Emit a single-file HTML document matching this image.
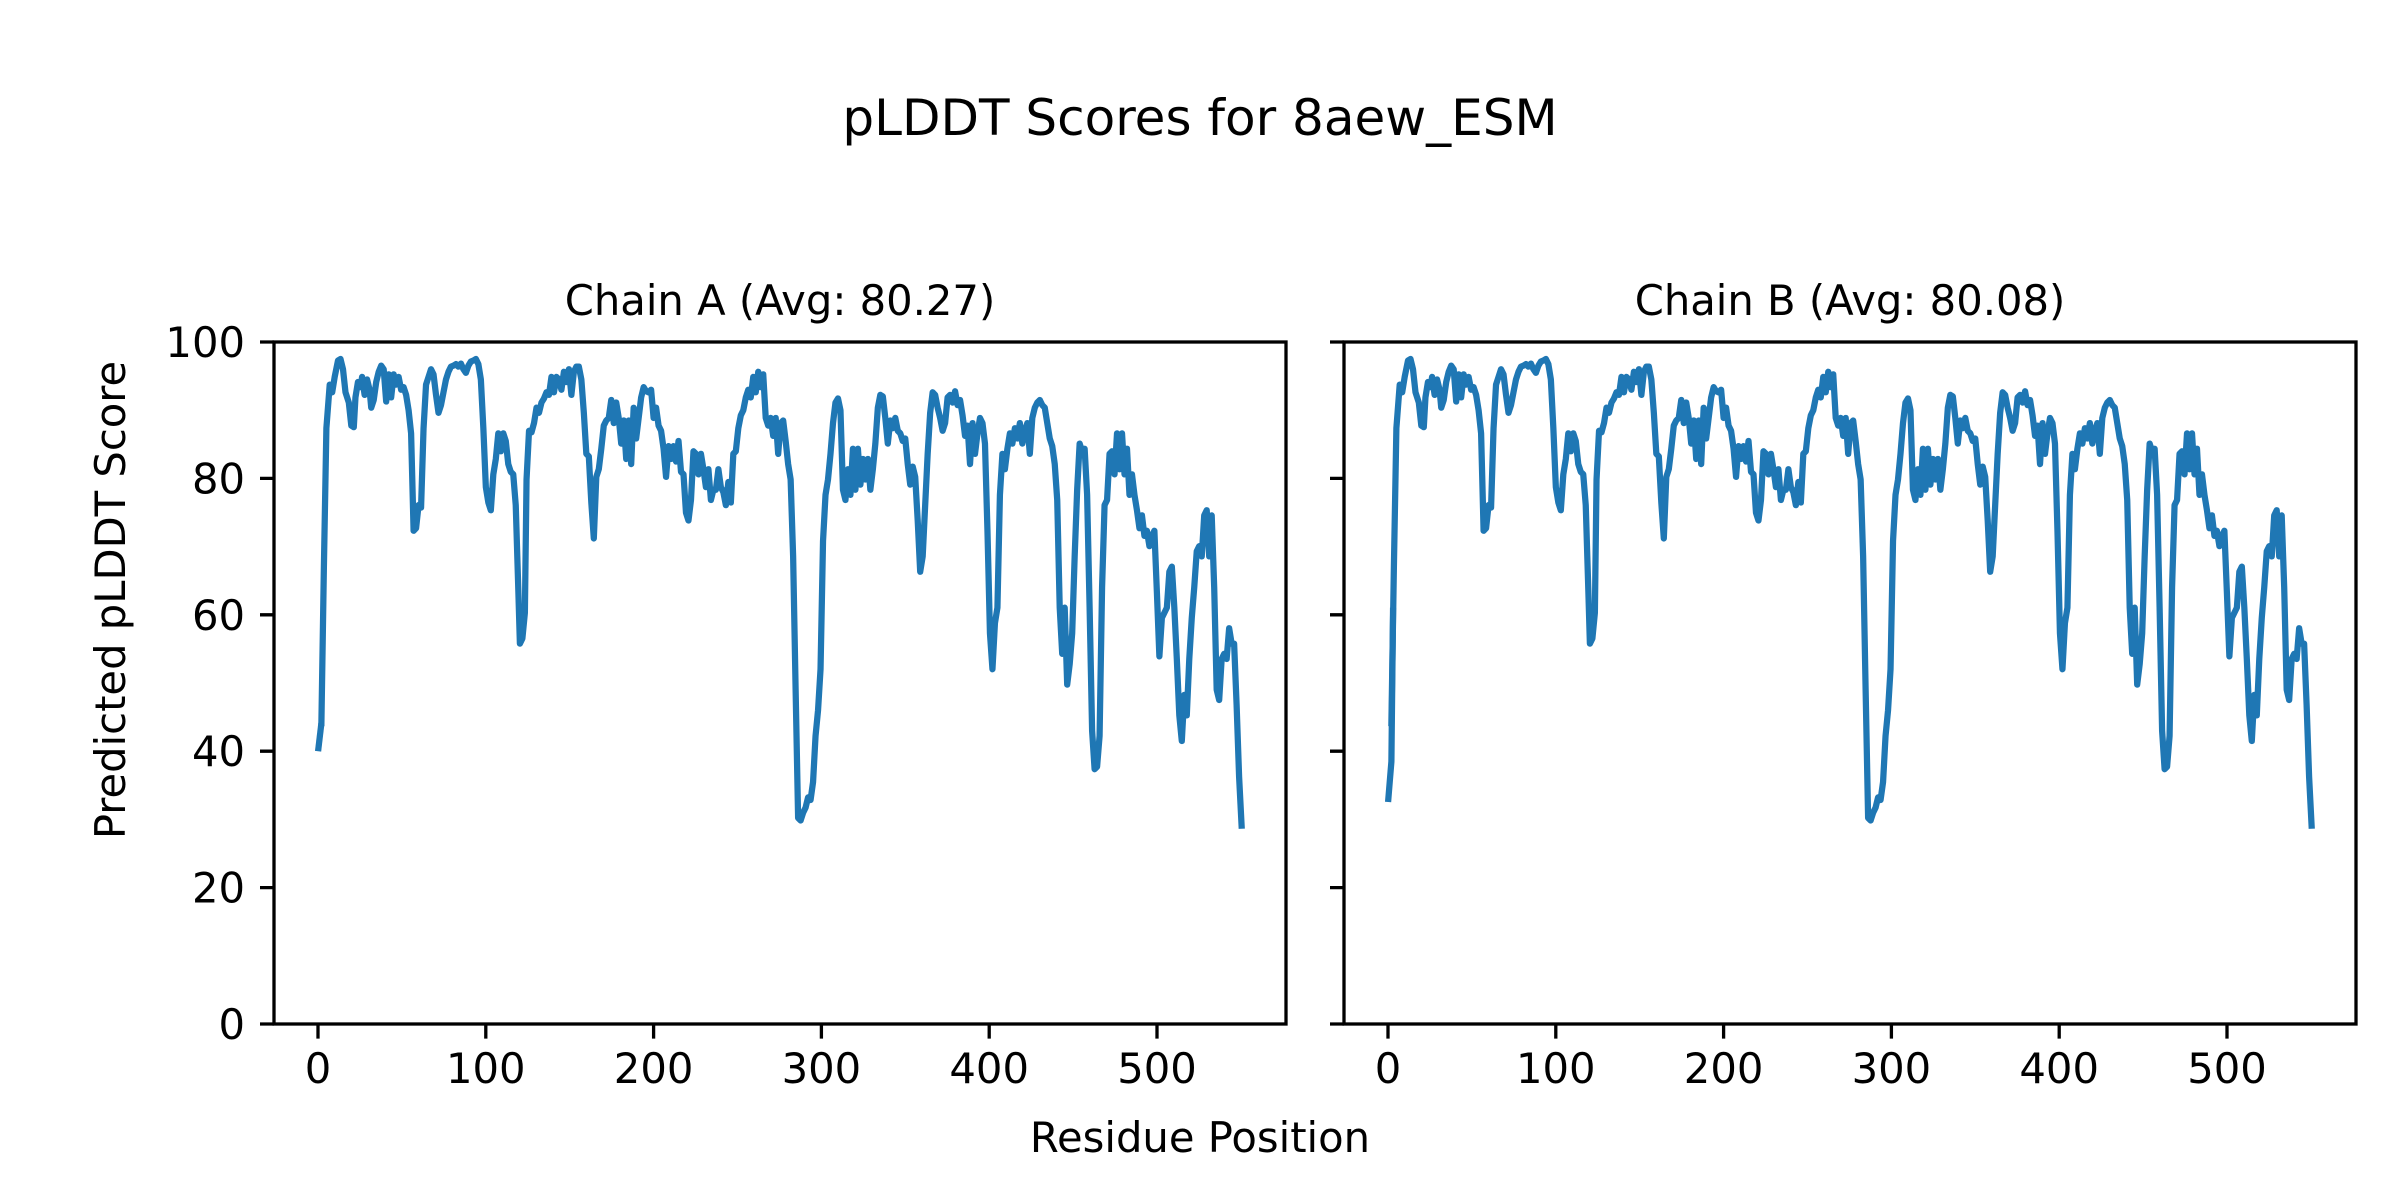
<!DOCTYPE html>
<html><head><meta charset="utf-8"><style>html,body{margin:0;padding:0;background:#fff}svg{display:block}</style></head>
<body>
<svg width="2400" height="1200" viewBox="0 0 2400 1200" xmlns="http://www.w3.org/2000/svg" font-family="'DejaVu Sans','Liberation Sans',sans-serif" fill="#000">
<rect width="2400" height="1200" fill="#fff"/>
<text x="1200" y="135" font-size="50" text-anchor="middle">pLDDT Scores for 8aew_ESM</text>
<text x="780" y="315" font-size="41.7" text-anchor="middle">Chain A (Avg: 80.27)</text>
<text x="1850" y="315" font-size="41.7" text-anchor="middle">Chain B (Avg: 80.08)</text>
<text x="1200" y="1152" font-size="41.7" text-anchor="middle">Residue Position</text>
<text transform="translate(125,600) rotate(-90)" font-size="41.7" text-anchor="middle">Predicted pLDDT Score</text>

<defs>
<polyline id="ser" fill="none" stroke="#1f77b4" stroke-width="6.25" stroke-linejoin="round" stroke-linecap="square" vector-effect="non-scaling-stroke" points="387,825 390,520 393,250 397,165 400,180 403,150 407,118 410,115 413,135 416,180 420,200 423,245 426,248 428,190 431,160 434,170 436,150 439,185 442,155 445,175 447,210 450,195 453,160 456,140 459,128 462,135 465,198 468,145 471,190 474,145 477,165 480,150 483,175 486,170 489,185 492,215 495,260 498,450 501,445 504,400 507,405 510,250 513,165 516,150 519,135 522,145 525,185 528,220 531,205 534,180 537,155 540,140 543,130 546,128 549,125 552,130 555,124 558,135 561,142 564,128 567,120 570,118 573,115 576,125 579,155 582,250 585,365 588,395 591,410 594,340 597,310 600,260 603,295 606,260 609,275 612,320 615,335 618,340 621,400 624,560 626,670 629,660 632,610 634,350 637,255 640,258 643,240 646,210 649,220 652,200 655,192 658,180 661,185 664,150 667,180 670,150 673,155 676,175 679,140 682,160 685,135 688,185 691,140 694,130 697,130 700,155 703,220 706,300 709,305 712,395 715,465 718,345 721,330 724,290 727,245 730,235 733,230 736,195 739,240 742,200 745,230 748,280 751,235 754,310 757,235 760,320 763,210 766,270 769,230 772,190 775,170 778,178 781,180 784,175 787,230 790,210 793,245 796,255 799,290 802,345 805,285 808,310 811,285 814,315 817,275 820,335 823,340 826,415 829,430 832,390 835,295 838,300 841,340 844,300 847,330 850,365 853,330 856,390 859,370 862,370 865,330 868,365 871,375 874,400 877,355 880,395 883,300 886,295 889,250 892,225 895,215 898,190 901,175 904,190 907,150 910,180 913,140 916,170 919,145 922,230 925,245 928,230 931,265 934,230 937,300 940,240 943,235 946,275 949,320 952,350 955,500 958,760 961,1010 964,1015 967,1000 970,990 973,970 976,975 979,940 982,850 985,800 988,720 991,470 994,380 997,350 1000,300 1003,240 1006,200 1009,192 1012,215 1015,370 1018,390 1021,330 1024,380 1027,290 1030,370 1033,290 1036,360 1039,310 1042,350 1045,310 1048,370 1051,330 1054,280 1057,210 1060,185 1063,188 1066,230 1069,280 1072,235 1075,250 1078,230 1081,255 1084,260 1087,275 1090,270 1093,320 1096,360 1099,325 1102,345 1105,430 1108,530 1111,500 1114,400 1117,300 1120,220 1123,180 1126,185 1129,210 1132,230 1135,255 1138,240 1141,190 1144,185 1147,200 1150,178 1153,205 1156,195 1159,225 1162,265 1165,245 1168,320 1171,240 1174,300 1177,260 1180,230 1183,240 1186,280 1189,450 1192,650 1195,720 1198,630 1201,600 1204,380 1207,300 1210,330 1213,290 1216,260 1219,280 1222,250 1225,270 1228,240 1231,280 1234,255 1237,240 1240,300 1243,230 1246,210 1249,200 1252,195 1255,205 1258,210 1261,240 1264,270 1267,285 1270,320 1273,390 1276,600 1279,690 1282,600 1285,750 1288,710 1291,650 1294,500 1297,370 1300,280 1303,295 1306,290 1309,380 1312,600 1315,840 1318,915 1321,910 1324,850 1327,560 1330,400 1333,390 1336,300 1339,295 1342,340 1345,260 1348,330 1351,260 1354,340 1357,290 1360,380 1363,340 1366,380 1369,410 1372,445 1375,420 1378,460 1381,450 1384,480 1387,460 1390,450 1393,570 1396,695 1399,620 1402,610 1405,600 1408,530 1411,520 1414,600 1417,700 1420,810 1423,860 1426,770 1429,810 1432,700 1435,620 1438,560 1441,490 1444,480 1447,500 1450,420 1453,410 1456,500 1459,420 1462,560 1465,760 1468,780 1471,700 1474,690 1477,700 1480,640 1483,670 1486,670 1489,790 1492,930 1495,1025"/>
</defs>

<g transform="translate(0,300) scale(0.8305,0.5128)">
<polyline fill="none" stroke="#1f77b4" stroke-width="6.25" vector-effect="non-scaling-stroke" points="383,880 387,825"/>
<use href="#ser"/>
</g>
<g transform="translate(1070,300) scale(0.8305,0.5128)">
<polyline fill="none" stroke="#1f77b4" stroke-width="6.25" vector-effect="non-scaling-stroke" points="383,979 387,900 389,600"/>
<use href="#ser"/>
</g>

<g stroke="#000" stroke-width="3.3" fill="none">
<rect x="274" y="342" width="1012" height="682"/>
<rect x="1344" y="342" width="1012" height="682"/>
<path d="M260,1024H274M260,887.6H274M260,751.2H274M260,614.8H274M260,478.4H274M260,342H274"/>
<path d="M1330,1024H1344M1330,887.6H1344M1330,751.2H1344M1330,614.8H1344M1330,478.4H1344M1330,342H1344"/>
<path d="M318,1024V1038.6M485.8,1024V1038.6M653.6,1024V1038.6M821.4,1024V1038.6M989.2,1024V1038.6M1157,1024V1038.6"/>
<path d="M1388,1024V1038.6M1555.8,1024V1038.6M1723.6,1024V1038.6M1891.4,1024V1038.6M2059.2,1024V1038.6M2227,1024V1038.6"/>
</g>

<g font-size="41.7" text-anchor="end">
<text x="245" y="1039">0</text>
<text x="245" y="902.6">20</text>
<text x="245" y="766.2">40</text>
<text x="245" y="629.8">60</text>
<text x="245" y="493.4">80</text>
<text x="245" y="357">100</text>
</g>
<g font-size="41.7" text-anchor="middle">
<text x="318" y="1083">0</text><text x="485.8" y="1083">100</text><text x="653.6" y="1083">200</text><text x="821.4" y="1083">300</text><text x="989.2" y="1083">400</text><text x="1157" y="1083">500</text>
<text x="1388" y="1083">0</text><text x="1555.8" y="1083">100</text><text x="1723.6" y="1083">200</text><text x="1891.4" y="1083">300</text><text x="2059.2" y="1083">400</text><text x="2227" y="1083">500</text>
</g>
</svg>
</body></html>
